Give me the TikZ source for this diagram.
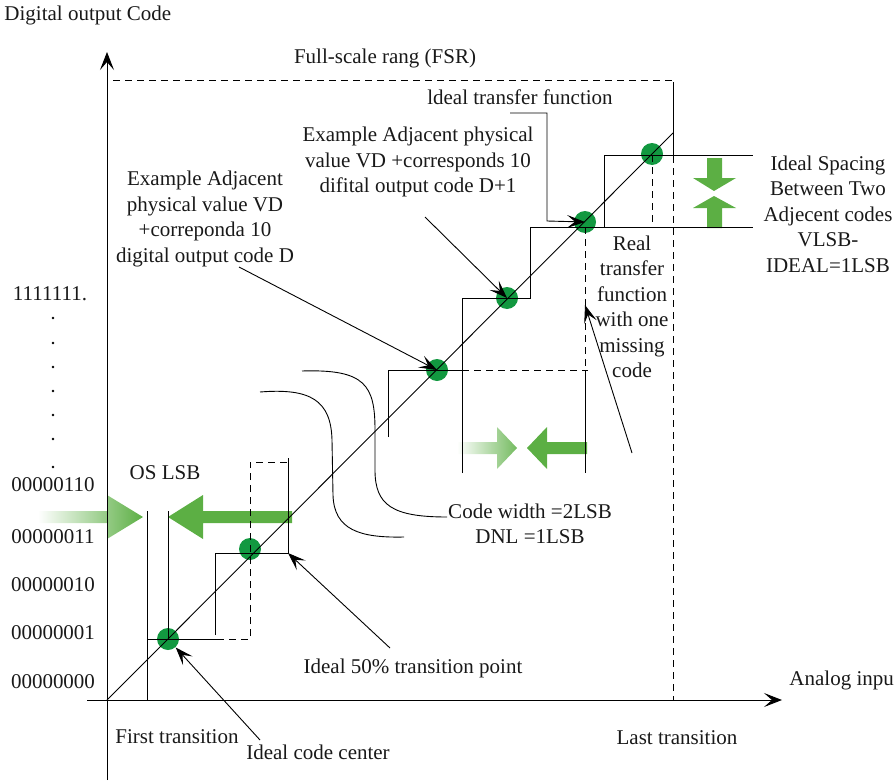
\documentclass[tikz,border=0pt]{standalone}
\usepackage{fontspec}
\setmainfont{Liberation Serif}
\usepackage{tikz}
\usetikzlibrary{arrows.meta, positioning}

\definecolor{arrowgreen}{RGB}{92,175,68}
\definecolor{dotgreen}{RGB}{18,152,64}

\begin{document}
\begin{tikzpicture}[x=1pt, y=-1pt, line width=0.9pt,
  lbl/.style      = {font=\fontsize{21}{25.5}\selectfont, align=center, inner sep=0pt, text=black!90},
  greendot/.style = {circle, fill=dotgreen, inner sep=0pt, minimum size=22pt},
  callout/.style  = {-{Stealth[length=18pt, width=13pt, inset=8pt]}},
  axisline/.style = {-{Stealth[length=18pt, width=14pt, inset=8pt]}},
  dsh/.style      = {dash pattern=on 7pt off 5pt}]

\useasboundingbox (0,0) rectangle (894,784);

% green arrows
\shade [left color=white, right color=arrowgreen] (38,511) -- (107,511) -- (107,495) -- (143,517) -- (107,539) -- (107,523) -- (38,523) -- cycle;
\fill  [arrowgreen] (292,511) -- (203,511) -- (203,495) -- (168,517) -- (203,539) -- (203,523) -- (292,523) -- cycle;
\shade [left color=white, right color=arrowgreen!85] (457,442) -- (497,442) -- (497,427) -- (517,448) -- (497,469) -- (497,454) -- (457,454) -- cycle;
\fill  [arrowgreen] (587,442) -- (547,442) -- (547,427) -- (527,448) -- (547,469) -- (547,454) -- (587,454) -- cycle;
\fill  [arrowgreen] (707,158) -- (722,158) -- (722,178) -- (736,178) -- (714,191) -- (693,178) -- (707,178) -- cycle;
\fill  [arrowgreen] (707,228) -- (722,228) -- (722,208) -- (736,208) -- (714,196) -- (693,208) -- (707,208) -- cycle;

% code centres
\node [greendot] (d1) at (168,639) {};
\node [greendot] (d2) at (250,549) {};
\node [greendot] (d3) at (437,370) {};
\node [greendot] (d4) at (507,298) {};
\node [greendot] (d5) at (585,222) {};
\node [greendot] (d6) at (652,154) {};

% axes
\draw [axisline] (107,780) -- (107,52);
\draw [axisline] (87,700) -- (782,700);

% ideal line and full scale
\draw (107,700) -- (673,133);
\draw [dsh] (113,80) -- (673,80) -- (673,700);
\draw (673,82) -- (673,155);

% steps
\draw (147,511) -- (147,700);
\draw (168,511) -- (168,639);
\draw (147,639) -- (217,639);
\draw [dsh] (217,639) -- (250,639) -- (250,462) -- (288,462);
\draw (215,635) -- (215,553) -- (288,553) -- (288,458);
\draw (388,437) -- (388,370) -- (462,370);
\draw [dsh] (462,370) -- (588,370);
\draw (462,473) -- (462,298) -- (530,298) -- (530,227) -- (753,227);
\draw [dsh] (585,227) -- (585,370);
\draw (585,370) -- (585,473);
\draw (604,227) -- (604,155) -- (753,155);
\draw [dsh] (652,155) -- (652,227);

% labels
\node [lbl, anchor=west] (ylab)    at (4,15)    {Digital output Code};
\node [lbl, anchor=west] (xlab)    at (789,680) {Analog input};
\node [lbl              ] (fsr)     at (385,58)  {Full-scale rang (FSR)};
\node [lbl              ] (ideal)   at (520,97)  {ldeal transfer function};
\node [lbl              ] (exd1)    at (418,162) {Example Adjacent physical\\value VD +corresponds 10\\difital output code D+1};
\node [lbl              ] (exd)     at (205,219) {Example Adjacent\\physical value VD\\+correponda 10\\digital output code D};
\node [lbl              ] (real)    at (632,307) {Real\\transfer\\function\\with one\\missing\\code};
\node [lbl              ] (spacing) at (828,214) {Ideal Spacing\\Between Two\\Adjecent codes\\VLSB-\\IDEAL=1LSB};
\node [lbl              ] (cw)      at (530,524) {Code width =2LSB\\DNL =1LSB};
\node [lbl              ] (tp50)    at (413,668) {Ideal 50\% transition point};
\node [lbl              ] (first)   at (177,737) {First transition};
\node [lbl              ] (center)  at (318,752) {Ideal code center};
\node [lbl              ] (last)    at (677,738) {Last transition};
\node [lbl              ] (oslsb)   at (165,473) {OS LSB};

% output codes
\node [lbl] (cmax) at (50,294) {1111111.};
\node [lbl] (c6)   at (53,485) {00000110};
\node [lbl] (c3)   at (53,537) {00000011};
\node [lbl] (c2)   at (53,585) {00000010};
\node [lbl] (c1)   at (53,633) {00000001};
\node [lbl] (c0)   at (53,682) {00000000};
\foreach \y in {318,343,367,391,415,439,467}
  \fill (53,\y) circle (1.3pt);

% callouts
\coordinate (cd)   at (239,267);
\coordinate (cd1)  at (425,217);
\coordinate (ci)   at (510,113);
\coordinate (cr0)  at (632,453);
\coordinate (cr1)  at (585,305);
\coordinate (c50a) at (390,648);
\coordinate (c50b) at (288,553);
\coordinate (cc)   at (260,740);

\draw [callout] (cd)   -- (d3.center);
\draw [callout] (cd1)  -- (d4.center);
\draw [callout] (ci)   -- (547,113) -- (547,221) -- (d5.center);
\draw [callout] (cr0)  -- (cr1);
\draw [callout] (c50a) -- (c50b);
\draw [callout] (cc)   -- (d1);

% code width brackets
\coordinate (ca)  at (302,371);
\coordinate (ca1) at (447,517);
\coordinate (cb)  at (260,392);
\coordinate (cb1) at (404,537);
\draw (ca) .. controls (365,369) and (375,385) .. (375,430) -- (375,470) .. controls (375,505) and (392,517) .. (ca1);
\draw (cb) .. controls (310,388) and (331,400) .. (332,440) -- (333,495) .. controls (334,530) and (360,538) .. (cb1);

\end{tikzpicture}
\end{document}
